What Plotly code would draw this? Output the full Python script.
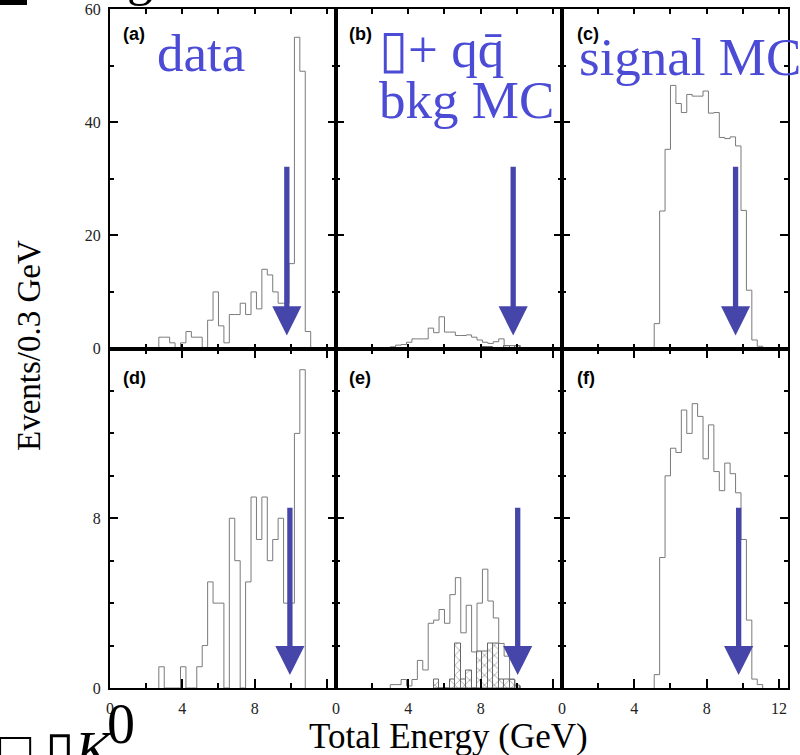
import plotly.graph_objects as go
from plotly.subplots import make_subplots

# ---------------- data ----------------
BIN_WIDTH = 0.3  # GeV

# (a) data
a_start = 2.7
a_counts = [2, 2, 1, 0, 1, 3, 2, 2, 0, 5, 10, 4, 1, 6, 6, 8, 6, 10, 7, 14, 13, 10, 8, 8, 15, 55, 49, 3]
# (b) tau+ qqbar bkg MC
b_start = 2.7
b_counts = [0.1, 0.3, 0.6, 0.7, 1.1, 1.7, 1.7, 1.7, 3.6, 2.8, 5.6, 2.9, 2.9, 2.3, 2.3, 2.4, 2.0,
            1.5, 1.1, 0.9, 1.2, 1.7, 0.5, 0.5, 0.5, 0.1]
b_hatch_bins = [8.1, 8.4, 9.3, 9.9]
b_hatch_counts = [0.3, 0.3, 0.4, 0.4]
# (c) signal MC
c_start = 5.1
c_counts = [4.4, 24.3, 35.2, 46.5, 43.3, 41.7, 44.9, 44.6, 44.6, 45.5, 41.6, 41.7, 37.3, 37.1,
            37.4, 35.8, 24.4, 10.3, 1.5, 0.4, 0.1]
# (d) data
d_start = 2.7
d_counts = [1, 0, 0, 0, 1, 0, 0, 1, 2, 5, 4, 4, 0, 8, 6, 0, 5, 9, 7, 9, 6, 7, 8, 4, 4, 12, 15]
# (e) bkg MC
e_start = 3.0
e_counts = [0.16, 0.16, 0.4, 0.1, 0.4, 1.3, 0.85, 3.05, 3.2, 3.7, 3.05, 4.4, 5.2, 2.6, 3.9, 1.7,
            4.0, 5.6, 4.1, 3.3, 2.1, 1.5, 0.4, 0.1]
e_hatch_start = 5.4
e_hatch_counts = [0.4, 0, 0, 0.4, 2.1, 0.4, 0.83, 0, 1.7, 1.7, 2.1, 2.1, 0.4, 0.4, 0.4, 0.12]
# (f) signal MC
f_start = 5.1
f_counts = [0.63, 6.15, 10.0, 11.3, 11.1, 13.1, 12.0, 13.4, 12.8, 10.8, 12.4, 10.2, 9.3, 10.6,
            10.1, 9.2, 7.0, 3.2, 0.42, 0.16]

# cut positions (GeV) marked by arrows
cut_energy = [9.78, 9.8, 9.6, 9.95, 10.05, 9.77]
arrow_tail = [32.4, 8.56]   # per row, in events
arrow_tip = [2.3, 0.61]

x_tickvals = [0, 4, 8, 12]
top_y_ticks = [0, 20, 40, 60]
bot_y_ticks = [0, 8, 16]

# ---------------- styling ----------------
W, H = 800, 755
ML, MR, MT, MB = 110, 12, 9, 67
PW = W - ML - MR
PH = H - MT - MB
LINE_COL = '#7a7a7a'
ARROW_COL = '#4646aa'
TEXT_BLUE = '#4b4bd6'
SERIF = 'Liberation Serif'
SANS = 'Liberation Sans'


def px(xp):  # page pixel -> paper
    return (xp - ML) / PW


def py(yp):
    return 1 - (yp - MT) / PH


def step_xy(start, counts):
    xs = [start]
    ys = [0]
    for i, c in enumerate(counts):
        xs.append(start + i * BIN_WIDTH)
        ys.append(c)
    xs.append(start + len(counts) * BIN_WIDTH)
    ys.append(0)
    return xs, ys


fig = make_subplots(rows=2, cols=3, horizontal_spacing=0, vertical_spacing=0)

hists = [(a_start, a_counts, 1, 1), (b_start, b_counts, 1, 2), (c_start, c_counts, 1, 3),
         (d_start, d_counts, 2, 1), (e_start, e_counts, 2, 2), (f_start, f_counts, 2, 3)]

hatch_style = dict(color='white', line=dict(color='#666666', width=1),
                   pattern=dict(shape='x', fgcolor='#5a5a5a', bgcolor='white', size=7, solidity=0.25))

# hatched components
fig.add_trace(go.Bar(x=[b + BIN_WIDTH / 2 for b in b_hatch_bins], y=b_hatch_counts, width=BIN_WIDTH,
                     marker=hatch_style, showlegend=False), row=1, col=2)
e_hatch_x = [e_hatch_start + (i + 0.5) * BIN_WIDTH for i in range(len(e_hatch_counts))]
fig.add_trace(go.Bar(x=e_hatch_x, y=e_hatch_counts, width=BIN_WIDTH,
                     marker=hatch_style, showlegend=False), row=2, col=2)

for start, counts, r, c in hists:
    xs, ys = step_xy(start, counts)
    fig.add_trace(go.Scatter(x=xs, y=ys, mode='lines', line=dict(color=LINE_COL, width=1, shape='hv'),
                             showlegend=False, hoverinfo='skip'), row=r, col=c)

tickfont = dict(family=SERIF, size=16, color='#222222')
for r in (1, 2):
    for c in (1, 2, 3):
        fig.update_xaxes(row=r, col=c, range=[0, 12.5], showline=True, linewidth=2, linecolor='black',
                         mirror='allticks', ticks='inside', tickvals=x_tickvals,
                         ticktext=['0', '4', '8', '12' if c == 3 else ''],
                         showticklabels=(r == 2), ticklen=9 if r == 2 else 5, tickwidth=1.5,
                         tickcolor='black', ticklabeloverflow='allow',
                         minor=dict(dtick=2, tick0=0, ticklen=5, ticks='inside', tickwidth=1.5,
                                    tickcolor='black'),
                         showgrid=False, zeroline=False, ticklabelstandoff=5, tickfont=tickfont)
        if r == 1:
            fig.update_yaxes(row=r, col=c, range=[0, 60], tickvals=top_y_ticks,
                             ticktext=[str(v) for v in top_y_ticks],
                             minor=dict(dtick=10, tick0=0, ticklen=4, ticks='inside', tickwidth=1.5,
                                        tickcolor='black'))
        else:
            fig.update_yaxes(row=r, col=c, range=[0, 16], tickvals=bot_y_ticks,
                             ticktext=['0', '8', ''],
                             minor=dict(dtick=2, tick0=0, ticklen=4, ticks='inside', tickwidth=1.5,
                                        tickcolor='black'))
        fig.update_yaxes(row=r, col=c, showline=True, linewidth=2, linecolor='black',
                         mirror='allticks', ticks='inside', ticklen=8, tickwidth=1.5,
                         tickcolor='black', showticklabels=(c == 1), showgrid=False,
                         ticklabeloverflow='allow',
                         zeroline=False, ticklabelstandoff=4, tickfont=tickfont)

annotations = []
# cut arrows
for k, cut in enumerate(cut_energy):
    r = k // 3
    idx = k + 1
    xr = 'x' if idx == 1 else f'x{idx}'
    yr = 'y' if idx == 1 else f'y{idx}'
    annotations.append(dict(x=cut, y=arrow_tip[r], ax=cut, ay=arrow_tail[r], xref=xr, yref=yr,
                            axref=xr, ayref=yr, text='', showarrow=True, arrowhead=2,
                            arrowsize=1.1, arrowwidth=5.3, arrowcolor=ARROW_COL))

# panel letters
for lab, xp, yp in [('(a)', 121, 34.5), ('(b)', 347, 34.5), ('(c)', 575, 34.5),
                    ('(d)', 121, 377.5), ('(e)', 347, 377.5), ('(f)', 575, 377.5)]:
    annotations.append(dict(x=px(xp), y=py(yp), xref='paper', yref='paper', xanchor='left',
                            yanchor='middle', showarrow=False, text=f'<b>{lab}</b>',
                            font=dict(family=SANS, size=18, color='black')))

big = dict(family=SERIF, size=53, color=TEXT_BLUE)
for txt, xp, yp in [('data', 155, 53.5), ('▯+ qq̄', 377, 48.5), ('bkg MC', 377, 100.5),
                    ('signal MC', 577, 57.5)]:
    annotations.append(dict(x=px(xp), y=py(yp), xref='paper', yref='paper', xanchor='left',
                            yanchor='middle', showarrow=False, text=txt, font=big))

# axis titles
annotations.append(dict(x=px(29), y=py(346), xref='paper', yref='paper', showarrow=False,
                        xanchor='center', yanchor='middle',
                        text='Events/0.3 GeV', textangle=-90,
                        font=dict(family=SERIF, size=33, color='black')))
annotations.append(dict(x=px(448), y=py(736), xref='paper', yref='paper', showarrow=False,
                        xanchor='center', yanchor='middle',
                        text='Total Energy (GeV)', font=dict(family=SERIF, size=35, color='black')))

# cropped fragments at the page edges
annotations.append(dict(x=px(-3), y=py(751), xref='paper', yref='paper', xanchor='left',
                        yanchor='middle', showarrow=False, text='□ ▯<i>K</i>',
                        font=dict(family=SERIF, size=54, color='black')))
annotations.append(dict(x=px(121), y=py(724), xref='paper', yref='paper', xanchor='center',
                        yanchor='middle', showarrow=False, text='0',
                        font=dict(family=SERIF, size=56, color='black')))
annotations.append(dict(x=px(140), y=py(-22.5), xref='paper', yref='paper', xanchor='center',
                        yanchor='middle', showarrow=False, text='g',
                        font=dict(family=SERIF, size=52, color='black')))

shapes = [dict(type='rect', xref='paper', yref='paper', x0=px(0), x1=px(27), y0=py(5), y1=py(-2),
               fillcolor='black', line=dict(width=0))]

fig.update_layout(width=W, height=H, margin=dict(l=ML, r=MR, t=MT, b=MB, autoexpand=False),
                  paper_bgcolor='white', plot_bgcolor='white', showlegend=False,
                  annotations=annotations, shapes=shapes, bargap=0)

fig.write_html('out.html', config={'displayModeBar': False},
               post_script="document.body.style.margin='0';document.body.style.overflow='hidden';")
